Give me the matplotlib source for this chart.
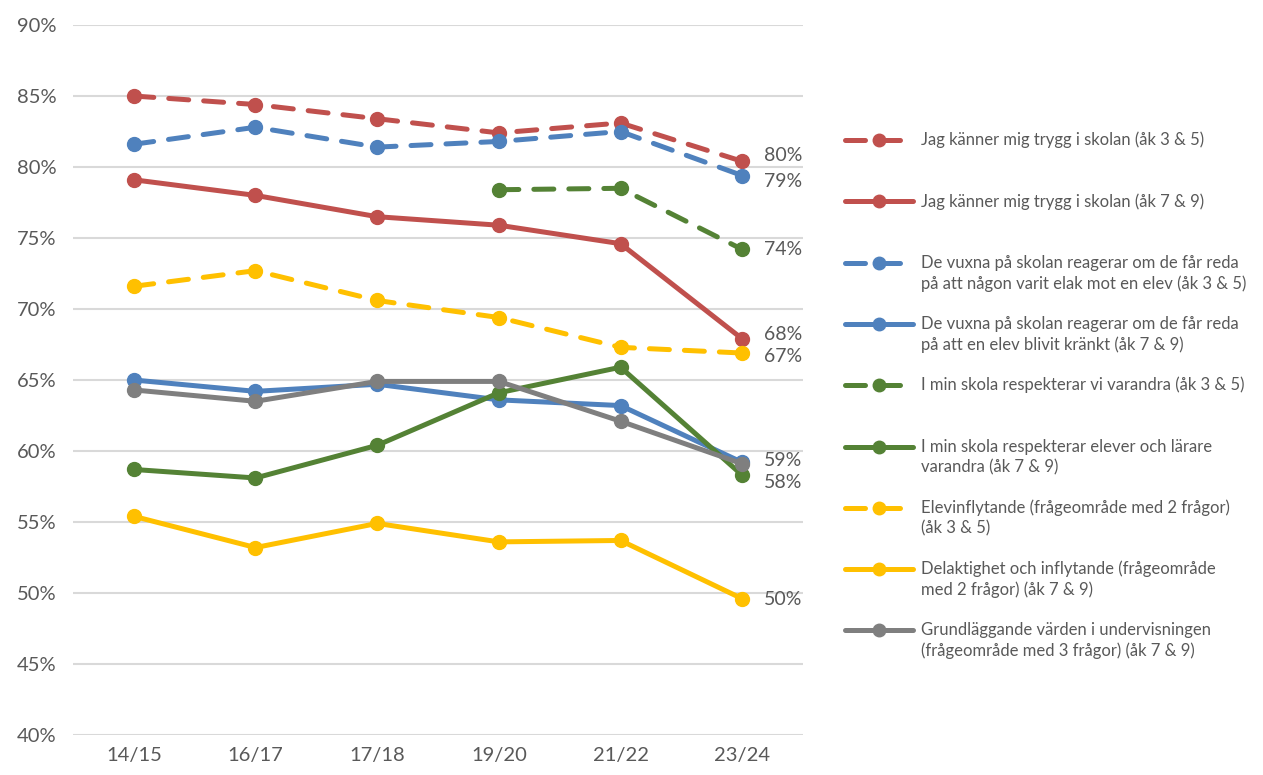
import matplotlib
matplotlib.use("Agg")
import matplotlib.pyplot as plt
from matplotlib.lines import Line2D
import numpy as np

years = ["14/15", "16/17", "17/18", "19/20", "21/22", "23/24"]

trygg_35 = [85.0, 84.4, 83.4, 82.4, 83.1, 80.4]
trygg_79 = [79.1, 78.0, 76.5, 75.9, 74.6, 67.9]
vuxna_35 = [81.6, 82.8, 81.4, 81.8, 82.5, 79.4]
vuxna_79 = [65.0, 64.2, 64.7, 63.6, 63.2, 59.2]
respekt_35 = [np.nan, np.nan, np.nan, 78.4, 78.5, 74.2]
respekt_79 = [58.7, 58.1, 60.4, 64.1, 65.9, 58.3]
elevinfl_35 = [71.6, 72.7, 70.6, 69.4, 67.3, 66.9]
delakt_79 = [55.4, 53.2, 54.9, 53.6, 53.7, 49.6]
grund_79 = [64.3, 63.5, 64.9, 64.9, 62.1, 59.1]

labels = [
    "Jag känner mig trygg i skolan (åk 3 & 5)",
    "Jag känner mig trygg i skolan (åk 7 & 9)",
    "De vuxna på skolan reagerar om de får reda\npå att någon varit elak mot en elev (åk 3 & 5)",
    "De vuxna på skolan reagerar om de får reda\npå att en elev blivit kränkt (åk 7 & 9)",
    "I min skola respekterar vi varandra (åk 3 & 5)",
    "I min skola respekterar elever och lärare\nvarandra (åk 7 & 9)",
    "Elevinflytande (frågeområde med 2 frågor)\n(åk 3 & 5)",
    "Delaktighet och inflytande (frågeområde\nmed 2 frågor) (åk 7 & 9)",
    "Grundläggande värden i undervisningen\n(frågeområde med 3 frågor) (åk 7 & 9)",
]
series = [trygg_35, trygg_79, vuxna_35, vuxna_79, respekt_35, respekt_79,
          elevinfl_35, delakt_79, grund_79]
colors = ["#C0504D", "#C0504D", "#4F81BD", "#4F81BD", "#548235", "#548235",
          "#FFC000", "#FFC000", "#7F7F7F"]
dashed = [True, False, True, False, True, False, True, False, False]
# pixel shift of the end labels (positive = up), None = no label
end_offsets = [6, 4, -6, None, 0, -7, -3, -1, 3]

plt.rcParams["font.family"] = ["Lato", "DejaVu Sans"]
TXT = "#595959"
DASH = (0, (4.0, 3.0))
LW = 3.6

fig = plt.figure(figsize=(12.63, 7.75), dpi=100)
ax = fig.add_axes([73 / 1263, 1 - 735 / 775, 730 / 1263, 710 / 775])
x = np.arange(len(years))

for vals, col, dsh in zip(series, colors, dashed):
    kw = dict(color=col, lw=LW, marker="o", ms=10, solid_capstyle="round",
              solid_joinstyle="round")
    if dsh:
        kw.update(ls=DASH, dash_capstyle="round")
    ax.plot(x, vals, **kw)

for vals, off in zip(series, end_offsets):
    if off is None:
        continue
    v = vals[-1]
    ax.annotate(f"{round(v):.0f}%", (x[-1], v), xytext=(16, off * 0.72),
                textcoords="offset points", ha="left", va="center",
                fontsize=14, color=TXT)

ax.set_xlim(-0.5, len(years) - 0.5)
ax.set_ylim(40, 90)
ax.set_yticks(np.arange(40, 91, 5))
ax.set_yticklabels([f"{t}%" for t in range(40, 91, 5)])
ax.set_xticks(x)
ax.set_xticklabels(years)
ax.tick_params(length=0, labelsize=14.5, colors=TXT)
ax.tick_params(axis="y", pad=12)
ax.tick_params(axis="x", pad=9)
for s in ax.spines.values():
    s.set_visible(False)
ax.grid(axis="y", color="#D9D9D9", lw=1.5)
ax.set_axisbelow(True)

# legend drawn by hand to match the Excel layout
W, H = 1263, 775
for i, (lab, col, dsh) in enumerate(zip(labels, colors, dashed)):
    y = 1 - (140 + i * 61.3) / H
    kw = dict(color=col, lw=LW, solid_capstyle="round", transform=fig.transFigure)
    if dsh:
        kw.update(ls=DASH, dash_capstyle="round")
    fig.add_artist(Line2D([845 / W, 913 / W], [y, y], **kw))
    fig.add_artist(Line2D([879 / W], [y], marker="o", ms=9, color=col,
                          transform=fig.transFigure))
    for j, line in enumerate(lab.split("\n")):
        fig.text(921 / W, y - j * 20.8 / H, line, ha="left", va="center",
                 fontsize=12, color=TXT)

fig.savefig("out.png", dpi=100)
